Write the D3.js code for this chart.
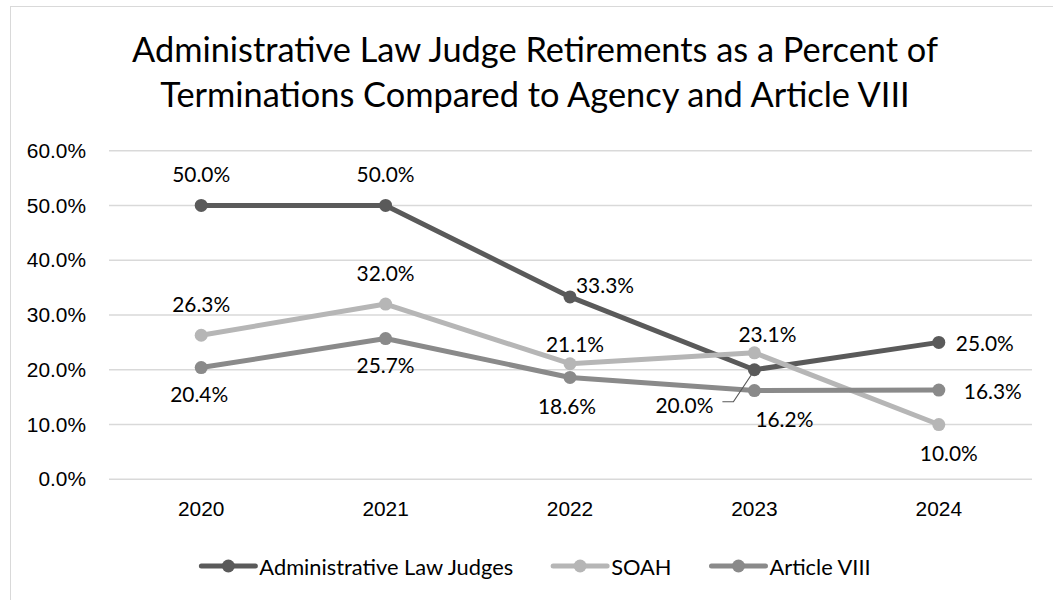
<!DOCTYPE html>
<html>
<head>
<meta charset="utf-8">
<script src="https://cdn.jsdelivr.net/npm/d3@7"></script>
<style>
  body { margin: 0; background: #fff; }
  svg { display: block; font-family: Lato, 'Open Sans', sans-serif; }
</style>
</head>
<body>
<div id="chart"></div>
<script>
// data
const years = ['2020', '2021', '2022', '2023', '2024']
const seriesNames = ['Administrative Law Judges', 'SOAH', 'Article VIII']
const aljValues = [0.500, 0.500, 0.333, 0.200, 0.250]
const soahValues = [0.263, 0.320, 0.211, 0.231, 0.100]
const articleValues = [0.204, 0.257, 0.186, 0.162, 0.163]
const yTicks = [0, 0.1, 0.2, 0.3, 0.4, 0.5, 0.6]
const titleLines = ['Administrative Law Judge Retirements as a Percent of', 'Terminations Compared to Agency and Article VIII']

// label nudges (label centre relative to its point), picked by eye like excel does
const aljNudge = [[0, -32], [0, -32], [35, -12], [-70, 35], [46, 0]]
const soahNudge = [[0, -32], [0, -32], [5, -20], [13, -19], [10, 28]]
const articleNudge = [[-2, 26], [0, 26], [-3, 28], [30, 28], [54, 0]]

let op = {
  width: 1053,
  height: 600,
  plot: { left: 109, right: 1031, top: 150.7, bottom: 479.3 },
  color: ['#5a5a5a', '#b6b6b6', '#8a8a8a'],
  grid: '#d9d9d9',
  lineW: 5,
  r: 6.5
}

let series = [
  { name: seriesNames[0], values: aljValues, nudge: aljNudge, color: op.color[0] },
  { name: seriesNames[1], values: soahValues, nudge: soahNudge, color: op.color[1] },
  { name: seriesNames[2], values: articleValues, nudge: articleNudge, color: op.color[2] }
]

let svg = d3.select('#chart').append('svg').attr('width', op.width).attr('height', op.height)
svg.append('rect').attr('width', op.width).attr('height', op.height).attr('fill', '#fff')
// chart border, cut off by the picture on the right and bottom
svg.append('rect').attr('x', 10.5).attr('y', 6.5).attr('width', 1200).attr('height', 800)
  .attr('fill', 'none').attr('stroke', '#d9d9d9').attr('stroke-width', 1)

// measure helper so the substitute font matches the widths of the original
let probe = svg.append('text').attr('font-size', 100).attr('x', -1000).attr('y', -1000)
function fitSize (str, width) {
  probe.text(str)
  return 100 * width / probe.node().getComputedTextLength()
}
let titleSize = fitSize(titleLines[0], 806)
let labelSize = fitSize('50.0%', 58)
let legendSize = fitSize(seriesNames[0], 254)
probe.remove()

let x = d3.scaleBand().domain(years).range([op.plot.left, op.plot.right])
let y = d3.scaleLinear().domain([0, 0.6]).range([op.plot.bottom, op.plot.top])
let cx = d => x(d) + x.bandwidth() / 2
let fmt = d3.format('.1%')

// title
svg.append('g').selectAll('text').data(titleLines).enter().append('text')
  .attr('x', 535).attr('y', (d, i) => 62 + i * 45)
  .attr('text-anchor', 'middle').attr('font-size', titleSize).attr('fill', '#000')
  .text(d => d)

// gridlines
svg.append('g').classed('grid', true).selectAll('line').data(yTicks).enter().append('line')
  .attr('x1', op.plot.left).attr('x2', op.plot.right + 1)
  .attr('y1', d => y(d)).attr('y2', d => y(d))
  .attr('stroke', op.grid).attr('stroke-width', 1.5)

// yAxis
let yAxis = d3.axisLeft(y).tickValues(yTicks).tickFormat(fmt).tickSize(0).tickPadding(23)
svg.append('g').classed('axis yAxis', true)
  .attr('transform', `translate(${op.plot.left}, 0)`)
  .call(yAxis)
  .call(g => g.select('.domain').remove())
  .call(g => g.selectAll('text').attr('font-size', labelSize).attr('fill', '#000').attr('font-family', null))

// xAxis
let xAxis = d3.axisBottom(x).tickSize(0).tickPadding(22)
svg.append('g').classed('axis xAxis', true)
  .attr('transform', `translate(0, ${op.plot.bottom})`)
  .call(xAxis)
  .call(g => g.select('.domain').remove())
  .call(g => g.selectAll('text').attr('font-size', labelSize).attr('fill', '#000').attr('font-family', null))

// lines + markers
let line = d3.line().x((d, i) => cx(years[i])).y(d => y(d))
series.forEach(s => {
  let g = svg.append('g').classed('series', true)
  g.append('path').datum(s.values).attr('d', line)
    .attr('fill', 'none').attr('stroke', s.color).attr('stroke-width', op.lineW)
    .attr('stroke-linejoin', 'round').attr('stroke-linecap', 'round')
  g.selectAll('circle').data(s.values).enter().append('circle')
    .attr('cx', (d, i) => cx(years[i])).attr('cy', d => y(d)).attr('r', op.r)
    .attr('fill', s.color)
})

// leader line for the 2023 ALJ label
let lx = cx(years[3]), ly = y(aljValues[3])
svg.append('path')
  .attr('d', `M${lx + aljNudge[3][0] + 38},${ly + aljNudge[3][1] - 3} h11 L${lx - 3},${ly + 5}`)
  .attr('fill', 'none').attr('stroke', '#595959').attr('stroke-width', 1.2)

// labels
series.forEach(s => {
  svg.append('g').classed('labels', true).selectAll('text').data(s.values).enter().append('text')
    .attr('x', (d, i) => cx(years[i]) + s.nudge[i][0])
    .attr('y', (d, i) => y(d) + s.nudge[i][1])
    .attr('text-anchor', 'middle').attr('dominant-baseline', 'central')
    .attr('font-size', labelSize).attr('fill', '#000')
    .text(d => fmt(d))
})

// legend, centred under the chart
let swatchW = 54, textGap = 4, itemGap = 40
let legend = svg.append('g').classed('legend', true)
let lx0 = 0
series.forEach(s => {
  let item = legend.append('g').attr('transform', `translate(${lx0}, 0)`)
  item.append('line').attr('x1', 0).attr('x2', swatchW).attr('y1', 0).attr('y2', 0)
    .attr('stroke', s.color).attr('stroke-width', op.lineW).attr('stroke-linecap', 'round')
  item.append('circle').attr('cx', swatchW / 2).attr('cy', 0).attr('r', op.r).attr('fill', s.color)
  let t = item.append('text').attr('x', swatchW + textGap).attr('y', 0).attr('dominant-baseline', 'central')
    .attr('font-size', legendSize).attr('fill', '#000').text(s.name)
  lx0 += swatchW + textGap + t.node().getComputedTextLength() + itemGap
})
let legendW = lx0 - itemGap
legend.attr('transform', `translate(${536 - legendW / 2}, 566)`)
</script>
</body>
</html>
